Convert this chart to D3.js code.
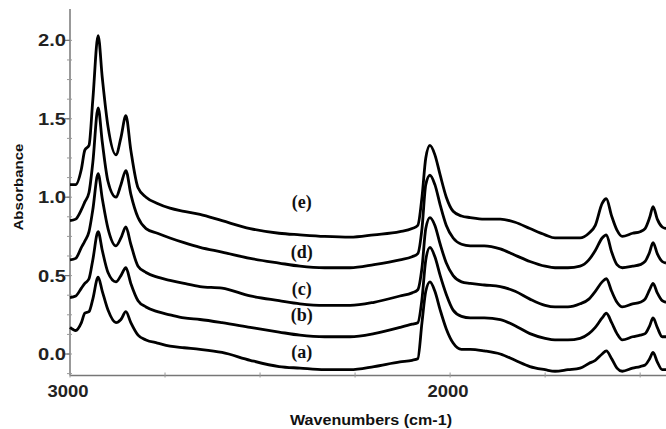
<!DOCTYPE html>
<html>
<head>
  <title>IR spectra (a)-(e)</title>
  <style>
    body { margin: 0; background: #fff; }
    svg { display: block; }
    .tick-label { font-family: Arial, "Liberation Sans", sans-serif; font-weight: bold; fill: #222; }
    .axis-title { font-family: Arial, "Liberation Sans", sans-serif; font-weight: bold; fill: #111; }
    .curve-label { font-family: "Liberation Serif", "Times New Roman", serif; font-weight: bold; fill: #111; }
  </style>
  <script src="https://d3js.org/d3.v7.min.js"></script>
</head>
<body>
  <div id="chart"></div>
  <script>
    // wavenumbers shared by all five spectra (cm-1)
    const wavenumbers = [3000, 2985, 2970, 2961, 2950, 2940, 2926, 2915, 2900, 2879, 2866, 2853, 2840, 2821,
      2800, 2770, 2737, 2700, 2658, 2600, 2526, 2450, 2395, 2330, 2263, 2200, 2132, 2100, 2085, 2074,
      2064, 2053, 2040, 2026, 2010, 1992, 1970, 1947, 1910, 1868, 1829, 1790, 1750, 1724, 1690, 1658,
      1635, 1618, 1600, 1589, 1575, 1561, 1547, 1520, 1500, 1487, 1475, 1466, 1455, 1442, 1432];

    const spectrumA = [0.17, 0.15, 0.20, 0.26, 0.27, 0.35, 0.49, 0.40, 0.28, 0.20, 0.22, 0.27, 0.20, 0.12,
      0.09, 0.07, 0.05, 0.04, 0.03, 0.01, -0.04, -0.08, -0.09, -0.10, -0.10, -0.08, -0.05, -0.04, -0.03, 0.20,
      0.40, 0.46, 0.40, 0.28, 0.16, 0.07, 0.03, 0.03, 0.02, 0.00, -0.04, -0.08, -0.10, -0.11, -0.10, -0.09,
      -0.06, -0.04, 0.00, 0.02, -0.03, -0.09, -0.11, -0.09, -0.08, -0.07, -0.03, 0.01, -0.05, -0.10, -0.10];
    const spectrumB = [0.36, 0.37, 0.42, 0.45, 0.48, 0.60, 0.78, 0.66, 0.52, 0.46, 0.50, 0.55, 0.45, 0.34,
      0.30, 0.27, 0.25, 0.23, 0.22, 0.20, 0.17, 0.14, 0.12, 0.11, 0.11, 0.13, 0.17, 0.19, 0.20, 0.35,
      0.60, 0.68, 0.62, 0.50, 0.38, 0.28, 0.24, 0.23, 0.23, 0.22, 0.18, 0.13, 0.10, 0.09, 0.09, 0.10,
      0.13, 0.17, 0.23, 0.26, 0.20, 0.13, 0.09, 0.11, 0.12, 0.13, 0.18, 0.23, 0.17, 0.11, 0.11];
    const spectrumC = [0.60, 0.61, 0.68, 0.72, 0.78, 0.92, 1.15, 0.99, 0.80, 0.69, 0.74, 0.81, 0.70, 0.56,
      0.52, 0.49, 0.47, 0.45, 0.43, 0.42, 0.37, 0.34, 0.32, 0.31, 0.31, 0.33, 0.37, 0.39, 0.41, 0.55,
      0.80, 0.87, 0.82, 0.70, 0.58, 0.50, 0.46, 0.45, 0.44, 0.43, 0.40, 0.35, 0.31, 0.30, 0.30, 0.32,
      0.35, 0.40, 0.46, 0.48, 0.40, 0.33, 0.30, 0.32, 0.33, 0.35, 0.41, 0.45, 0.39, 0.34, 0.33];
    const spectrumD = [0.85, 0.86, 0.92, 0.97, 1.03, 1.22, 1.57, 1.35, 1.10, 1.00, 1.08, 1.17, 1.02, 0.87,
      0.80, 0.77, 0.74, 0.71, 0.68, 0.65, 0.61, 0.58, 0.56, 0.55, 0.55, 0.57, 0.60, 0.62, 0.64, 0.80,
      1.08, 1.14, 1.08, 0.95, 0.82, 0.74, 0.70, 0.69, 0.69, 0.67, 0.63, 0.59, 0.56, 0.55, 0.55, 0.56,
      0.60, 0.66, 0.74, 0.76, 0.65, 0.57, 0.55, 0.56, 0.57, 0.59, 0.65, 0.71, 0.64, 0.59, 0.58];
    const spectrumE = [1.08, 1.08, 1.18, 1.30, 1.33, 1.62, 2.03, 1.76, 1.45, 1.27, 1.38, 1.52, 1.30, 1.06,
      1.00, 0.96, 0.93, 0.91, 0.89, 0.85, 0.80, 0.77, 0.76, 0.75, 0.745, 0.76, 0.78, 0.80, 0.82, 1.00,
      1.25, 1.33, 1.27, 1.14, 1.00, 0.91, 0.88, 0.87, 0.86, 0.86, 0.84, 0.80, 0.76, 0.74, 0.74, 0.74,
      0.77, 0.82, 0.96, 0.99, 0.88, 0.79, 0.75, 0.77, 0.78, 0.80, 0.87, 0.94, 0.86, 0.81, 0.80];

    const spectra = [spectrumA, spectrumB, spectrumC, spectrumD, spectrumE];
    const curveNames = ["(a)", "(b)", "(c)", "(d)", "(e)"];
    const labelWavenumber = 2390;
    const labelAbsorbance = [0.013, 0.25, 0.415, 0.65, 0.97];

    const yTicks = [0.0, 0.5, 1.0, 1.5, 2.0];
    const xTickLabels = [3000, 2000];

    const W = 666, H = 429;
    const svg = d3.select("#chart").append("svg").attr("width", W).attr("height", H);

    const x = d3.scaleLinear().domain([3000, 1432]).range([70, 666]);
    const y = d3.scaleLinear().domain([-0.137, 2.2]).range([375.5, 9]);

    // axes lines
    svg.append("line").attr("x1", 70).attr("x2", 70).attr("y1", y(2.2)).attr("y2", y(-0.137))
      .attr("stroke", "#777").attr("stroke-width", 1.5);
    svg.append("line").attr("x1", 70).attr("x2", 666).attr("y1", y(-0.137)).attr("y2", y(-0.137))
      .attr("stroke", "#777").attr("stroke-width", 1.5);

    // y minor ticks every 0.125
    const yMinor = d3.range(0, 18).map(i => -0.125 + i * 0.125).filter(v => v > -0.137 && v < 2.2);
    svg.selectAll(".ymin").data(yMinor).join("line")
      .attr("x1", 67).attr("x2", 72).attr("y1", d => y(d)).attr("y2", d => y(d))
      .attr("stroke", "#999").attr("stroke-width", 1);
    svg.selectAll(".ymaj").data(yTicks).join("line")
      .attr("x1", 65).attr("x2", 70).attr("y1", d => y(d)).attr("y2", d => y(d))
      .attr("stroke", "#777").attr("stroke-width", 1.2);
    svg.selectAll(".ylab").data(yTicks).join("text")
      .attr("class", "tick-label")
      .attr("x", 66).attr("y", d => y(d)).attr("dy", "0.36em")
      .attr("text-anchor", "end").attr("font-size", 17)
      .attr("textLength", 28).attr("lengthAdjust", "spacingAndGlyphs")
      .text(d => d.toFixed(1));

    // x ticks every 250
    const xMinor = d3.range(3000, 1431, -250);
    svg.selectAll(".xmin").data(xMinor).join("line")
      .attr("x1", d => x(d)).attr("x2", d => x(d)).attr("y1", y(-0.137) - 3).attr("y2", y(-0.137) + 2)
      .attr("stroke", "#999").attr("stroke-width", 1);
    svg.selectAll(".xlab").data(xTickLabels).join("text")
      .attr("class", "tick-label")
      .attr("x", d => x(d) - 2).attr("y", 397)
      .attr("text-anchor", "middle").attr("font-size", 17)
      .attr("textLength", 41).attr("lengthAdjust", "spacingAndGlyphs")
      .text(d => d);

    // axis titles
    svg.append("text").attr("class", "axis-title")
      .attr("transform", "translate(23,187) rotate(-90)")
      .attr("text-anchor", "middle").attr("font-size", 13)
      .attr("textLength", 87).attr("lengthAdjust", "spacingAndGlyphs")
      .text("Absorbance");
    svg.append("text").attr("class", "axis-title")
      .attr("x", 371).attr("y", 425)
      .attr("text-anchor", "middle").attr("font-size", 14)
      .attr("textLength", 162).attr("lengthAdjust", "spacingAndGlyphs")
      .text("Wavenumbers (cm-1)");

    // spectra
    const line = d3.line()
      .x((d, i) => x(wavenumbers[i]))
      .y(d => y(d))
      .curve(d3.curveMonotoneX);

    svg.append("g").selectAll("path").data(spectra).join("path")
      .attr("d", line)
      .attr("fill", "none")
      .attr("stroke", "#000")
      .attr("stroke-width", 2.8)
      .attr("stroke-linejoin", "round");

    svg.append("g").selectAll("text").data(curveNames).join("text")
      .attr("class", "curve-label")
      .attr("x", x(labelWavenumber)).attr("y", (d, i) => y(labelAbsorbance[i]))
      .attr("dy", "0.35em").attr("text-anchor", "middle")
      .attr("font-size", 18)
      .text(d => d);
  </script>
</body>
</html>
